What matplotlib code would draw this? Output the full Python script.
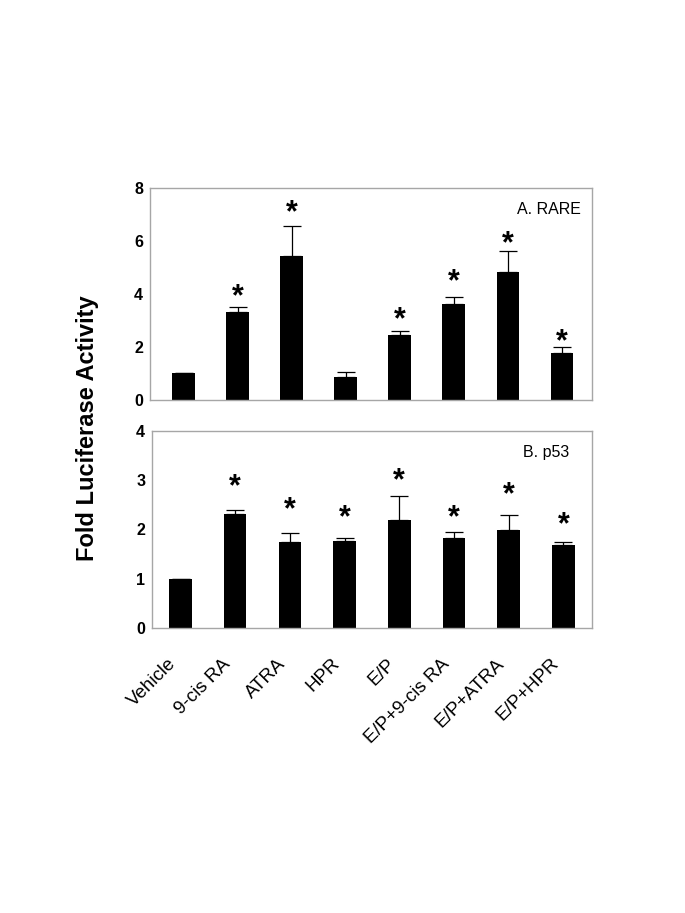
import numpy as np
import matplotlib
matplotlib.use("Agg")
import matplotlib.pyplot as plt
from matplotlib.transforms import ScaledTranslation

plt.rcParams['font.family'] = ['Liberation Sans', 'DejaVu Sans']

# 处理组
groups = ["Vehicle", "9-cis RA", "ATRA", "HPR", "E/P",
          "E/P+9-cis RA", "E/P+ATRA", "E/P+HPR"]

# A. RARE
rare_mean = [1.0, 3.32, 5.42, 0.87, 2.47, 3.61, 4.82, 1.79]
rare_err = [0.0, 0.19, 1.13, 0.19, 0.15, 0.27, 0.82, 0.20]
rare_star = [None, 4.1, 7.24, None, 3.21, 4.66, 6.08, 2.39]

# B. p53
p53_mean = [1.0, 2.31, 1.74, 1.76, 2.19, 1.83, 1.98, 1.68]
p53_err = [0.0, 0.09, 0.18, 0.07, 0.48, 0.11, 0.32, 0.06]
p53_star = [None, 2.97, 2.50, 2.35, 3.10, 2.35, 2.81, 2.19]

frame = '#a6a6a6'


def drawPanel(ax, mean, err, star, ymax, title, xlim, tpos):
    x = np.arange(len(groups))
    ax.bar(x, mean, width=0.41, color='black', zorder=2)
    lower = np.zeros(len(err))
    ax.errorbar(x, mean, yerr=[lower, err], fmt='none', ecolor='black',
                elinewidth=0.9, capsize=6.5, capthick=0.9, zorder=1)
    for i, s in enumerate(star):
        if s is not None:
            ax.annotate('*', (x[i], s), xytext=(0, -4),
                        textcoords='offset points', ha='center', va='center',
                        fontsize=22, fontweight='bold')
    ax.set_ylim(0, ymax)
    ax.set_xlim(*xlim)
    ax.set_yticks(range(0, ymax + 1, 2 if ymax > 4 else 1))
    for sp in ax.spines.values():
        sp.set_color(frame)
        sp.set_linewidth(1.0)
    ax.tick_params(axis='y', length=0, labelsize=11.5, pad=5)
    for lb in ax.get_yticklabels():
        lb.set_fontweight('bold')
    ax.text(tpos[0], tpos[1], title, transform=ax.transAxes, ha='right',
            va='center', fontsize=11.5)


fig = plt.figure(figsize=(6.85, 9.13), dpi=100)
ax1 = fig.add_axes([0.219, 0.5619, 0.645, 0.2322])
ax2 = fig.add_axes([0.222, 0.3122, 0.642, 0.2158])

drawPanel(ax1, rare_mean, rare_err, rare_star, 8, "A. RARE",
          (-0.62, 7.56), (0.975, 0.9))
drawPanel(ax2, p53_mean, p53_err, p53_star, 4, "B. p53",
          (-0.52, 7.52), (0.948, 0.89))

ax1.set_xticks([])
ax2.set_xticks(np.arange(len(groups)))
ax2.set_xticklabels(groups, rotation=45, ha='right', va='center',
                    rotation_mode='anchor', fontsize=13.5)
ax2.tick_params(axis='x', length=0, pad=24)
shift = ScaledTranslation(-7 / 100, 0, fig.dpi_scale_trans)
for lb in ax2.get_xticklabels():
    lb.set_transform(lb.get_transform() + shift)

fig.text(0.128, 0.531, "Fold Luciferase Activity", rotation=90,
         ha='center', va='center', fontsize=17, fontweight='bold')

fig.savefig("out.png", dpi=100)
